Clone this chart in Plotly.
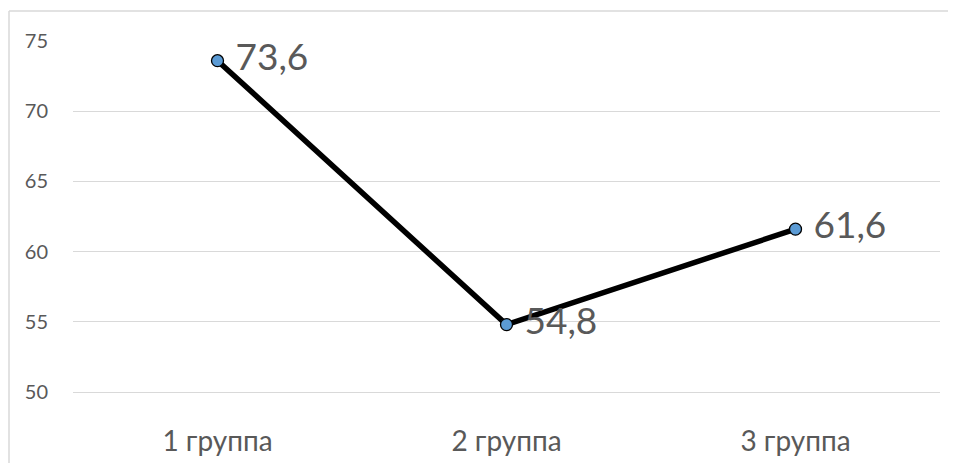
import plotly.graph_objects as go

groups = ['1 группа', '2 группа', '3 группа']
scores = [73.6, 54.8, 61.6]
labels = ['73,6', '54,8', '61,6']
yticks = [50, 55, 60, 65, 70, 75]

# page body adds an 8px offset, so margins are measured from there
W, H = 956, 463
ml, mr, mt, mb = 65, 24, 33, 79
pw = W - ml - mr
ph = H - mt - mb

fig = go.Figure()
fig.add_trace(go.Scatter(
    x=groups, y=scores,
    mode='lines+markers+text',
    text=labels,
    texttemplate=' %{text}',
    textposition='middle right',
    textfont=dict(family='Lato', size=37, color='#595959'),
    line=dict(color='black', width=5.5),
    marker=dict(size=12, color='#5B9BD5', line=dict(color='black', width=1.3)),
    cliponaxis=False,
    showlegend=False,
))

# chart border (top and left edges only are visible)
bx = (1 - ml) / pw
by = 1 + (mt - 3) / ph
fig.add_shape(type='line', xref='paper', yref='paper', x0=bx, x1=1.1, y0=by, y1=by,
              line=dict(color='#d9d9d9', width=1.5))
fig.add_shape(type='line', xref='paper', yref='paper', x0=bx, x1=bx, y0=by, y1=-0.3,
              line=dict(color='#d9d9d9', width=1.5))

fig.update_layout(
    width=W, height=H,
    margin=dict(l=ml, r=mr, t=mt, b=mb, autoexpand=False),
    paper_bgcolor='white', plot_bgcolor='white',
    font=dict(family='Lato', color='#595959'),
    xaxis=dict(range=[-0.5, 2.5], showgrid=False, zeroline=False, automargin=False,
               showline=True, linecolor='#d9d9d9', linewidth=1.2,
               tickfont=dict(size=28), ticks='outside', ticklen=24, tickcolor='rgba(0,0,0,0)'),
    yaxis=dict(range=[50, 75], tickvals=yticks, showgrid=True, gridcolor='#d9d9d9', gridwidth=1.2,
               zeroline=False, showline=False, automargin=False, tickfont=dict(size=20),
               ticks='outside', ticklen=20, tickcolor='rgba(0,0,0,0)'),
)

fig.write_html("out.html")
